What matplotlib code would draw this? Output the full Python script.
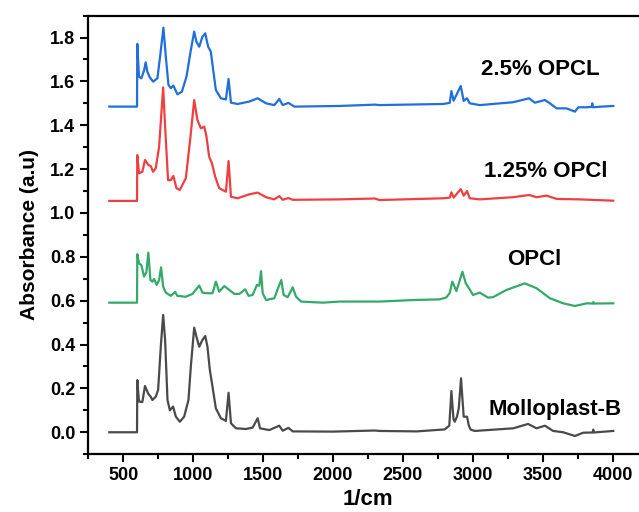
import matplotlib.pyplot as plt
from matplotlib.ticker import MultipleLocator, FormatStrFormatter

plt.rcParams['font.family'] = ['Liberation Sans', 'DejaVu Sans']
plt.rcParams['font.weight'] = 'bold'

# FTIR spectra (wavenumber in 1/cm, absorbance offset per sample)
wn_molloplast = [400, 598, 600, 612, 636, 655, 679, 696, 708, 732, 749, 768, 785, 799, 816, 833,
                 856, 876, 904, 935, 966, 983, 1007, 1023, 1043, 1066, 1086, 1102, 1119, 1138,
                 1162, 1198, 1234, 1253, 1270, 1306, 1377, 1425, 1461, 1478, 1544, 1616, 1640,
                 1681, 1712, 2000, 2300, 2334, 2600, 2799, 2832, 2847, 2862, 2871, 2887, 2900,
                 2916, 2935, 2959, 2972, 2985, 3014, 3289, 3396, 3456, 3516, 3575, 3647, 3731,
                 3790, 3858, 3862, 3866, 4005]
ab_molloplast = [0.0, 0.0, 0.238, 0.14, 0.138, 0.211, 0.175, 0.162, 0.147, 0.162, 0.193, 0.39,
                 0.535, 0.42, 0.147, 0.10, 0.117, 0.071, 0.048, 0.071, 0.147, 0.30, 0.477, 0.436,
                 0.39, 0.421, 0.439, 0.39, 0.284, 0.208, 0.109, 0.064, 0.052, 0.18, 0.041, 0.018,
                 0.015, 0.021, 0.064, 0.018, 0.01, 0.03, 0.007, 0.02, 0.004, 0.003, 0.008, 0.006,
                 0.004, 0.013, 0.03, 0.188, 0.06, 0.048, 0.071, 0.11, 0.246, 0.071, 0.071, 0.03,
                 0.012, 0.006, 0.018, 0.038, 0.018, 0.03, 0.006, 0.0, -0.017, -0.002, -0.001,
                 0.012, -0.001, 0.006]

wn_opcl = [400, 598, 600, 612, 629, 648, 665, 679, 694, 708, 720, 739, 756, 770, 785, 804, 840,
           871, 887, 947, 995, 1043, 1066, 1102, 1138, 1162, 1186, 1222, 1258, 1294, 1330, 1372,
           1396, 1425, 1456, 1473, 1485, 1497, 1521, 1580, 1611, 1630, 1647, 1676, 1712, 1736,
           1772, 1927, 2046, 2332, 2572, 2763, 2811, 2835, 2854, 2883, 2926, 2950, 2966, 3002,
           3050, 3109, 3145, 3241, 3372, 3456, 3552, 3647, 3731, 3815, 3858, 3862, 3866, 4005]
ab_opcl = [0.591, 0.591, 0.812, 0.77, 0.763, 0.71, 0.73, 0.819, 0.694, 0.687, 0.699, 0.672, 0.694,
           0.752, 0.664, 0.637, 0.622, 0.64, 0.622, 0.618, 0.631, 0.669, 0.637, 0.634, 0.634,
           0.687, 0.641, 0.667, 0.649, 0.631, 0.631, 0.652, 0.622, 0.626, 0.672, 0.668, 0.735,
           0.634, 0.603, 0.611, 0.664, 0.694, 0.626, 0.616, 0.661, 0.618, 0.596, 0.591, 0.596,
           0.596, 0.603, 0.606, 0.615, 0.635, 0.687, 0.644, 0.732, 0.679, 0.664, 0.626, 0.637,
           0.614, 0.616, 0.649, 0.679, 0.657, 0.611, 0.588, 0.576, 0.588, 0.587, 0.594, 0.587,
           0.588]

wn_125 = [400, 598, 600, 612, 636, 655, 679, 696, 713, 732, 756, 785, 799, 820, 840, 858, 880,
          904, 947, 978, 1007, 1030, 1055, 1079, 1095, 1114, 1134, 1157, 1186, 1234, 1253, 1270,
          1317, 1401, 1461, 1521, 1580, 1616, 1640, 1681, 1712, 2046, 2300, 2332, 2787, 2835,
          2847, 2863, 2914, 2935, 2959, 2978, 3050, 3289, 3403, 3456, 3528, 3600, 3767, 4005]
ab_125 = [1.055, 1.055, 1.264, 1.181, 1.188, 1.242, 1.219, 1.214, 1.188, 1.204, 1.302, 1.573,
          1.394, 1.15, 1.15, 1.169, 1.113, 1.105, 1.158, 1.333, 1.515, 1.424, 1.386, 1.394,
          1.348, 1.257, 1.227, 1.166, 1.113, 1.097, 1.237, 1.074, 1.067, 1.085, 1.093, 1.072,
          1.062, 1.077, 1.06, 1.068, 1.06, 1.062, 1.066, 1.059, 1.067, 1.07, 1.094, 1.07, 1.109,
          1.079, 1.1, 1.067, 1.062, 1.072, 1.082, 1.072, 1.079, 1.064, 1.062, 1.056]

wn_25 = [400, 598, 600, 612, 629, 648, 660, 672, 689, 713, 744, 763, 787, 804, 823, 840, 858, 887,
         919, 952, 983, 1007, 1023, 1043, 1066, 1086, 1107, 1126, 1143, 1162, 1198, 1234, 1253,
         1270, 1317, 1401, 1461, 1521, 1580, 1616, 1640, 1681, 1724, 2046, 2300, 2332, 2787,
         2835, 2847, 2863, 2914, 2935, 2959, 2978, 3050, 3289, 3403, 3444, 3516, 3552, 3600,
         3671, 3731, 3755, 3815, 3851, 3855, 3859, 3920, 4005]
ab_25 = [1.485, 1.485, 1.771, 1.622, 1.614, 1.649, 1.687, 1.644, 1.619, 1.599, 1.614, 1.713,
         1.845, 1.713, 1.584, 1.569, 1.581, 1.541, 1.553, 1.622, 1.743, 1.827, 1.781, 1.758,
         1.804, 1.819, 1.758, 1.736, 1.652, 1.561, 1.523, 1.518, 1.611, 1.503, 1.497, 1.508,
         1.523, 1.5, 1.492, 1.52, 1.492, 1.502, 1.485, 1.488, 1.494, 1.492, 1.497, 1.502, 1.556,
         1.512, 1.579, 1.511, 1.523, 1.5, 1.492, 1.505, 1.523, 1.503, 1.515, 1.5, 1.477, 1.477,
         1.462, 1.482, 1.482, 1.484, 1.5, 1.482, 1.485, 1.488]

labels = ['2.5% OPCL', '1.25% OPCl', 'OPCl', 'Molloplast-B']
label_x = [3480, 3520, 3437, 3587]
label_y = [1.652, 1.19, 0.786, 0.105]
colors = ['#1f6fdc', '#ee4040', '#35a96a', '#4a4a4a']

fig = plt.figure(figsize=(6.39, 5.12), dpi=100)
ax = fig.add_axes([0.1383, 0.1129, 0.875, 0.8566])

series = [(wn_25, ab_25), (wn_125, ab_125), (wn_opcl, ab_opcl), (wn_molloplast, ab_molloplast)]
for (x, y), c in zip(series, colors):
    ax.plot(x, y, color=c, linewidth=1.6, solid_joinstyle='round')

for txt, x, y in zip(labels, label_x, label_y):
    ax.text(x, y, txt, fontsize=16, fontweight='bold', ha='center', va='center')

ax.set_xlim(250, 4250)
ax.set_ylim(-0.1, 1.9)
ax.xaxis.set_major_locator(MultipleLocator(500))
ax.xaxis.set_minor_locator(MultipleLocator(250))
ax.yaxis.set_major_locator(MultipleLocator(0.2))
ax.yaxis.set_minor_locator(MultipleLocator(0.1))
ax.yaxis.set_major_formatter(FormatStrFormatter('%.1f'))
ax.tick_params(which='major', direction='out', length=6, width=1.5, labelsize=13)
ax.tick_params(which='minor', direction='out', length=3.5, width=1.5)
for lab in ax.get_xticklabels() + ax.get_yticklabels():
    lab.set_fontweight('bold')

for side in ['left', 'bottom', 'top']:
    ax.spines[side].set_linewidth(1.6)
ax.spines['right'].set_visible(False)

ax.set_xlabel('1/cm', fontsize=16, fontweight='bold', labelpad=3)
ax.set_ylabel('Absorbance (a.u)', fontsize=15, fontweight='bold', labelpad=8)

fig.savefig('out.png', dpi=100)
